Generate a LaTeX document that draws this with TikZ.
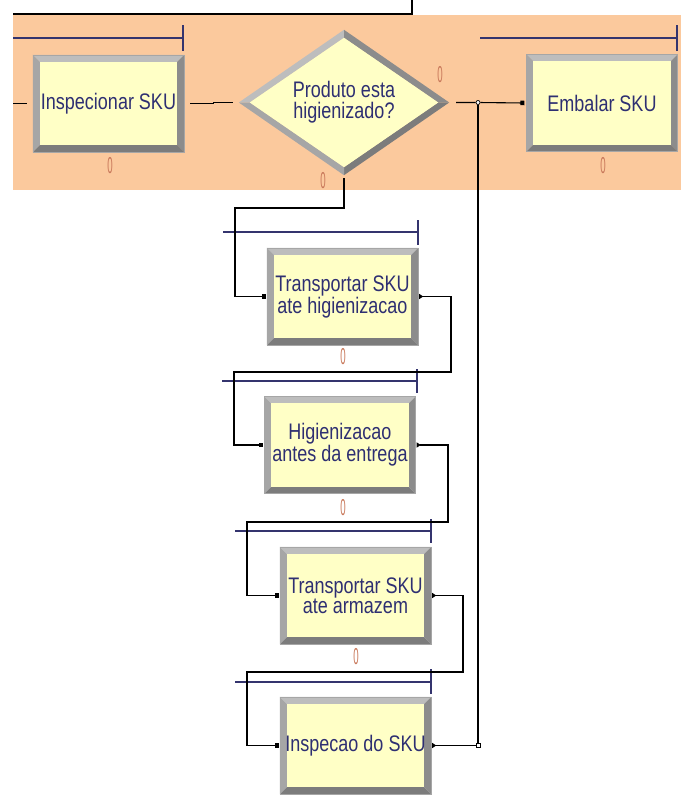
\documentclass[tikz,border=0pt]{standalone}
\usepackage{fontspec}
\newfontfamily\arenafont[FakeStretch=0.8]{Liberation Sans}
\newfontfamily\zerofont[FakeStretch=0.42]{Liberation Sans}
\usetikzlibrary{shapes.geometric,arrows.meta,calc,backgrounds}

\definecolor{band}{HTML}{FBC99D}
\definecolor{boxyellow}{HTML}{FFFFC6}
\definecolor{textblue}{HTML}{2E2F72}
\definecolor{barblue}{HTML}{34346E}
\definecolor{zerored}{HTML}{C8785A}
\definecolor{bevtop}{HTML}{BDBDBD}
\definecolor{bevleft}{HTML}{A6A6A6}
\definecolor{bevright}{HTML}{8C8C8C}
\definecolor{bevbot}{HTML}{7C7C7C}

% beveled module frame drawn behind a rectangular node
\newcommand\bevelrect[1]{%
  \fill[bevtop] (#1.north west) -- (#1.north east) -- ($(#1.north east)+(-7,7)$) -- ($(#1.north west)+(7,7)$) -- cycle;
  \fill[bevleft] (#1.north west) -- ($(#1.north west)+(7,7)$) -- ($(#1.south west)+(7,-7)$) -- (#1.south west) -- cycle;
  \fill[bevright] (#1.north east) -- (#1.south east) -- ($(#1.south east)+(-7,-7)$) -- ($(#1.north east)+(-7,7)$) -- cycle;
  \fill[bevbot] (#1.south west) -- (#1.south east) -- ($(#1.south east)+(-7,-7)$) -- ($(#1.south west)+(7,-7)$) -- cycle;
  \fill[boxyellow] ($(#1.north west)+(7,7)$) rectangle ($(#1.south east)+(-7,-7)$);
  \draw[gray!70, line width=0.6pt] (#1.north west) rectangle (#1.south east);}

% beveled frame behind the decision diamond
\newcommand\beveldiamond[1]{%
  \coordinate (#1N) at ($(#1.north)+(0,8)$);
  \coordinate (#1E) at ($(#1.east)+(-11,0)$);
  \coordinate (#1S) at ($(#1.south)+(0,-8)$);
  \coordinate (#1W) at ($(#1.west)+(11,0)$);
  \fill[bevtop] (#1.north) -- (#1.west) -- (#1W) -- (#1N) -- cycle;
  \fill[bevright] (#1.north) -- (#1.east) -- (#1E) -- (#1N) -- cycle;
  \fill[bevbot] (#1.east) -- (#1.south) -- (#1S) -- (#1E) -- cycle;
  \fill[bevleft] (#1.south) -- (#1.west) -- (#1W) -- (#1S) -- cycle;
  \fill[boxyellow] (#1N) -- (#1E) -- (#1S) -- (#1W) -- cycle;}

\begin{document}
\begin{tikzpicture}[x=1pt,y=-1pt,
  module/.style={rectangle, minimum width=151pt, minimum height=97pt, inner sep=0pt,
    font=\arenafont\fontsize{22.5}{20.5}\selectfont, text=textblue, align=center},
  decide/.style={diamond, minimum width=210pt, minimum height=145pt, inner sep=0pt, aspect=1.45,
    font=\arenafont\fontsize{22.5}{21}\selectfont, text=textblue, align=center},
  conn/.style={line width=1.1pt, black},
  entry/.style={conn, -{Square[length=4pt,width=4.5pt]}},
  exitentry/.style={conn, {Triangle[reversed,length=4pt,width=5pt]}-{Square[length=4pt,width=4.5pt]}},
  exitonly/.style={conn, {Triangle[reversed,length=4pt,width=5pt]}-},
  qbar/.style={line width=1.2pt, barblue},
  zero/.style={font=\zerofont\fontsize{23}{23}\selectfont, text=zerored, inner sep=0pt},
  junction/.style={circle, draw=black, fill=white, line width=0.7pt, inner sep=0pt, minimum size=4pt},
  junctionsq/.style={rectangle, draw=black, fill=white, line width=0.7pt, inner sep=0pt, minimum size=4pt}]

\useasboundingbox (0,0) rectangle (681,795);

% modules
\node[module] (insp) at (108.5,103.5) {Inspecionar SKU};
\node[decide] (dec) at (344,102.5) {Produto esta\\higienizado?};
\node[module] (emb) at (602,103) {Embalar SKU};
\node[module] (tr1) at (342.5,296.5) {Transportar SKU\\ate higienizacao};
\node[module] (hig) at (340,445) {Higienizacao\\antes da entrega};
\node[module] (tr2) at (355.5,595.5) {Transportar SKU\\ate armazem};
\node[module] (ins2) at (355.5,745.5) {Inspecao do SKU};

% backdrop and frames
\begin{pgfonlayer}{background}
  \fill[band] (13,15) rectangle (681,190);
  \bevelrect{insp}
  \beveldiamond{dec}
  \bevelrect{emb}
  \bevelrect{tr1}
  \bevelrect{hig}
  \bevelrect{tr2}
  \bevelrect{ins2}
\end{pgfonlayer}

% counters
\node[zero] (z1) at (110,166) {0};
\node[zero] (z2) at (440,75) {0};
\node[zero] (z3) at (323,181) {0};
\node[zero] (z4) at (603,166) {0};
\node[zero] (z5) at (343,357) {0};
\node[zero] (z6) at (343,508) {0};
\node[zero] (z7) at (356,657) {0};

% queue bars
\draw[qbar] (13,38) -- (183,38) (183,25) -- (183,51);
\draw[qbar] (480,38) -- (677,38) (677,25) -- (677,51);
\draw[qbar] (223,232) -- (418,232) (418,220) -- (418,245);
\draw[qbar] (222,381) -- (417,381) (417,369) -- (417,393);
\draw[qbar] (235,531) -- (431,531) (431,519) -- (431,543);
\draw[qbar] (235,682) -- (431,682) (431,669) -- (431,694);

% connectors
\coordinate (topin) at (412,0);
\coordinate (src) at (13,103.5);
\draw[conn] (13,14) -- (412,14) -- (topin);
\draw[conn] (src) -- ([xshift=-6pt]insp.west);
\draw[conn] ([xshift=6pt]insp.east) -- ++(23,0) coordinate (jog) |- ([xshift=-6pt]dec.west);
\node[junction] (jn) at (478,102.5) {};
\draw[entry] ([xshift=7pt]dec.east) -- (jn) -- ([xshift=-2pt]emb.west);
\draw[entry] ([yshift=-3pt]dec.south) |- (235,208) |- ([xshift=-1pt]tr1.west);
\draw[exitentry] ([xshift=1pt]tr1.east) -| (451,372) -| (234,445) -- ([xshift=-1pt]hig.west);
\draw[exitentry] ([xshift=1pt]hig.east) -| (448,522) -| (247,595.5) -- ([xshift=-1pt]tr2.west);
\draw[exitentry] ([xshift=1pt]tr2.east) -| (463,672) -| (247,745.5) -- ([xshift=-1pt]ins2.west);
\node[junctionsq] (jb) at (478,745.5) {};
\draw[exitonly] ([xshift=1pt]ins2.east) -- (jb);
\draw[conn] (jb) -- (jn);
\end{tikzpicture}
\end{document}
